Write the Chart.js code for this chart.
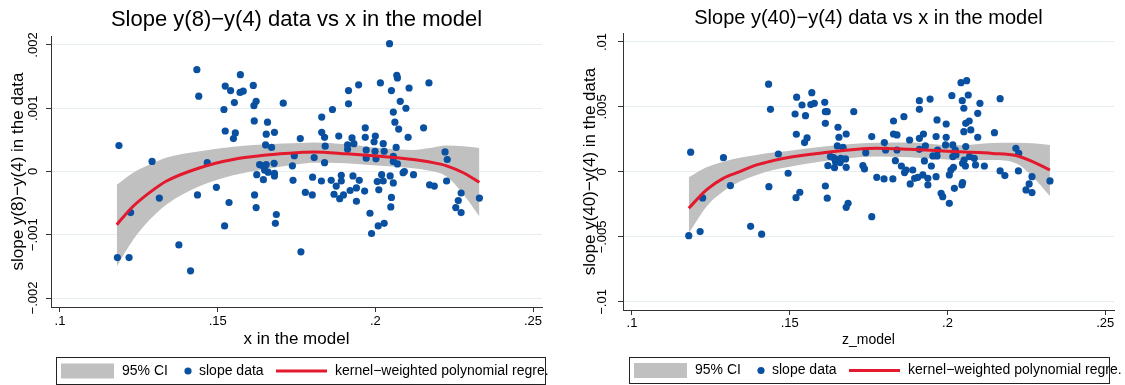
<!DOCTYPE html>
<html><head><meta charset="utf-8">
<script src="https://cdn.jsdelivr.net/npm/chart.js@4/dist/chart.umd.min.js"></script>
<style>
html,body{margin:0;padding:0;background:#fff;width:1125px;height:385px;overflow:hidden}
canvas{position:absolute;top:0}
#cL{left:0}
#cR{left:562px}
</style></head><body>
<canvas id="cL" width="562" height="385"></canvas>
<canvas id="cR" width="563" height="385"></canvas>
<script>
// ---------- data ----------
const titleL = 'Slope y(8)\u2212y(4) data vs x in the model';
const titleR = 'Slope y(40)\u2212y(4) data vs x in the model';
const yTitleL = 'slope y(8)\u2212y(4) in the data';
const yTitleR = 'slope y(40)\u2212y(4) in the data';
const xTitleL = 'x in the model';
const xTitleR = 'z_model';
const legendLabels = ['95% CI', 'slope data', 'kernel\u2212weighted polynomial regre.'];

const xTickValues = [0.1, 0.15, 0.2, 0.25];
const xTickLabels = ['.1', '.15', '.2', '.25'];
const yTickValuesL = [-0.002, -0.001, 0, 0.001, 0.002];
const yTickLabelsL = ['\u2212.002', '\u2212.001', '0', '.001', '.002'];
const yTickValuesR = [-0.01, -0.005, 0, 0.005, 0.01];
const yTickLabelsR = ['\u2212.01', '\u2212.005', '0', '.005', '.01'];

// left panel scatter
const xL = [0.1187,0.1182,0.1219,0.1224,0.1292,0.1315,0.1377,0.1414,0.1434,0.1440,0.1436,0.1467,0.1496,0.1520,0.1524,0.1541,0.1524,0.1536,0.1522,0.1553,
0.1556,0.1550,0.1572,0.1571,0.1581,0.1613,0.1615,0.1622,0.1616,0.1658,0.1654,0.1652,0.1671,0.1680,0.1679,0.1633,0.1624,0.1643,0.1649,0.1654,
0.1660,0.1645,0.1680,0.1680,0.1617,0.1622,0.1686,0.1683,0.1708,0.1737,0.1743,0.1739,0.1762,0.1778,0.1764,0.1800,0.1801,0.1806,0.1830,0.1830,
0.1839,0.1841,0.1839,0.1829,0.1864,0.1860,0.1869,0.1876,0.1884,0.1887,0.1892,0.1892,0.1899,0.1915,0.1915,0.1912,0.1912,0.1926,0.1932,0.1929,
0.1920,0.1940,0.1940,0.1949,0.1947,0.1968,0.1968,0.1971,0.1971,0.1966,0.1983,0.1988,0.2000,0.1996,0.1999,0.2002,0.2009,0.2006,0.2011,0.2016,
0.2025,0.2028,0.2020,0.2025,0.2028,0.2045,0.2051,0.2057,0.2062,0.2068,0.2070,0.2079,0.2074,0.2066,0.2057,0.2057,0.2070,0.2047,0.2057,0.2051,
0.2049,0.2097,0.2107,0.2104,0.2088,0.2092,0.2121,0.2153,0.2170,0.2172,0.2187,0.2221,0.2228,0.2226,0.2255,0.2263,0.2272,0.2272,0.2330];
const yL = [0.00041,-0.00136,-0.00136,-0.00065,0.00016,-0.00042,-0.00116,-0.00157,0.00161,0.00119,-0.00037,0.00014,-0.00025,0.00098,0.00135,0.00128,0.00064,-0.00049,-0.00086,0.00109,
0.00061,0.00052,0.00153,0.00125,0.00127,0.00136,0.00104,0.00111,0.00080,0.00078,0.00059,0.00042,0.00038,0.00062,0.00013,0.00011,-0.00005,0.00009,0.00002,0.00011,
-0.00001,-0.00013,-0.00003,-0.00007,-0.00037,-0.00057,-0.00068,-0.00082,0.00108,0.00009,0.00025,-0.00014,0.00052,-0.00033,-0.00127,-0.00037,-0.00009,0.00022,0.00086,0.00062,
0.00054,0.00040,0.00014,-0.00015,0.00098,-0.00014,-0.00036,-0.00023,0.00056,-0.00043,-0.00006,-0.00015,-0.00037,0.00128,0.00107,0.00042,0.00035,0.00053,0.00044,-0.00007,
-0.00030,-0.00026,-0.00047,-0.00014,0.00137,0.00069,0.00054,0.00034,0.00021,-0.00031,-0.00066,-0.00098,0.00056,0.00047,0.00032,0.00020,-0.00086,-0.00016,-0.00029,0.00140,
0.00044,0.00032,-0.00005,-0.00015,-0.00082,0.00202,0.00128,0.00094,0.00078,0.00152,0.00148,0.00111,0.00067,0.00038,0.00024,0.00016,0.00012,-0.00007,-0.00018,-0.00041,
-0.00056,0.00100,0.00132,0.00054,-0.00002,0.00000,-0.00005,0.00069,0.00140,-0.00021,-0.00023,0.00031,0.00019,-0.00015,-0.00057,-0.00046,-0.00034,-0.00065,-0.00042];

// left panel smooth + CI
const curveXL = [0.118,0.1232,0.1285,0.1338,0.1444,0.1549,0.1655,0.1761,0.1803,0.1909,0.2015,0.2120,0.2173,0.2226,0.2279,0.2330];
const ciHighL = [-0.00021,-0.00002,0.00011,0.00022,0.00032,0.00039,0.00043,0.00045,0.00046,0.00043,0.00037,0.00034,0.00037,0.00041,0.00040,0.00037];
const ciLowL  = [-0.00150,-0.00108,-0.00076,-0.00052,-0.00023,-0.00006,0.00004,0.00012,0.00014,0.00013,0.00009,0.00005,0.00001,-0.00008,-0.00036,-0.00071];
const fitL    = [-0.00084,-0.00055,-0.00033,-0.00015,0.00006,0.00019,0.00026,0.00030,0.00031,0.00028,0.00024,0.00019,0.00015,0.00009,-0.00002,-0.00017];

// right panel scatter
const xR = [0.1186,0.1180,0.1216,0.1224,0.1290,0.1312,0.1376,0.1411,0.1433,0.1439,0.1434,0.1464,0.1495,0.1517,0.1522,0.1539,0.1521,0.1532,0.1520,0.1550,
0.1555,0.1547,0.1570,0.1567,0.1578,0.1611,0.1613,0.1619,0.1613,0.1653,0.1656,0.1651,0.1669,0.1679,0.1677,0.1629,0.1621,0.1639,0.1645,0.1654,
0.1660,0.1642,0.1679,0.1662,0.1613,0.1619,0.1685,0.1679,0.1703,0.1732,0.1741,0.1737,0.1760,0.1776,0.1760,0.1799,0.1827,0.1804,0.1800,0.1829,
0.1829,0.1840,0.1840,0.1835,0.1862,0.1854,0.1864,0.1869,0.1880,0.1882,0.1890,0.1896,0.1906,0.1911,0.1911,0.1911,0.1924,0.1930,0.1911,0.1927,
0.1922,0.1938,0.1938,0.1949,0.1945,0.1954,0.1967,0.1964,0.1969,0.1964,0.1967,0.1996,0.1994,0.2017,0.2025,0.2017,0.2027,0.2006,0.2011,0.2019,
0.1996,0.2014,0.1980,0.1985,0.2006,0.2022,0.2046,0.2048,0.2043,0.2061,0.2047,0.2052,0.2058,0.2052,0.2048,0.2053,0.2058,0.2066,0.2103,0.2096,
0.2069,0.2074,0.2096,0.2149,0.2167,0.2070,0.2085,0.2057,0.2089,0.2117,0.2217,0.2226,0.2167,0.2182,0.2225,0.2268,0.2259,0.2249,0.2268,0.2325];
const yR = [0.00152,-0.00490,-0.00459,-0.00200,0.00110,-0.00105,-0.00418,-0.00479,0.00675,0.00482,-0.00113,0.00138,-0.00010,0.00446,0.00575,0.00515,0.00290,-0.00156,-0.00198,0.00433,
0.00262,0.00226,0.00610,0.00518,0.00528,0.00536,0.00464,0.00464,0.00374,0.00344,0.00267,0.00200,0.00190,0.00292,0.00100,0.00118,0.00048,0.00110,0.00079,0.00095,
0.00072,0.00033,0.00036,0.00105,-0.00108,-0.00202,-0.00241,-0.00272,0.00464,0.00048,0.00148,0.00023,0.00272,-0.00041,-0.00344,-0.00054,-0.00054,0.00169,0.00226,0.00392,
0.00292,0.00285,0.00169,0.00087,0.00425,0.00046,-0.00005,0.00015,0.00246,-0.00092,0.00015,-0.00049,-0.00041,0.00548,0.00482,0.00259,0.00292,0.00200,0.00174,0.00085,
-0.00023,-0.00049,-0.00100,0.00046,0.00561,0.00123,0.00123,0.00272,0.00169,-0.00036,0.00400,0.00267,0.00208,0.00208,0.00169,0.00118,0.00131,-0.00023,0.00015,0.00036,
0.00369,0.00587,-0.00164,-0.00190,-0.00241,-0.00126,-0.00100,-0.00082,0.00687,0.00702,0.00548,0.00490,0.00374,0.00310,0.00067,0.00092,0.00195,0.00592,0.00528,0.00451,
0.00392,0.00323,0.00267,0.00302,0.00564,0.00118,0.00105,0.00046,0.00054,0.00046,0.00182,0.00144,0.00008,-0.00028,0.00008,-0.00036,-0.00092,-0.00138,-0.00159,-0.00069];

// right panel smooth + CI
const curveXR = [0.118,0.1236,0.1289,0.1342,0.1395,0.1447,0.150,0.1595,0.1774,0.188,0.1985,0.2038,0.2143,0.2217,0.227,0.2325];
const ciHighR = [-0.00041,0.00036,0.00079,0.00110,0.00131,0.00149,0.00164,0.00192,0.00225,0.00226,0.00208,0.00205,0.00222,0.00225,0.00220,0.00208];
const ciLowR  = [-0.00472,-0.00267,-0.00151,-0.00074,-0.00023,0.00015,0.00041,0.00079,0.00118,0.00113,0.00097,0.00092,0.00092,0.00067,-0.00036,-0.00185];
const fitR    = [-0.00279,-0.00138,-0.00049,0.00003,0.00054,0.00087,0.00113,0.00144,0.00182,0.00174,0.00162,0.00155,0.00142,0.00126,0.00079,0.00015];

// ---------- styling ----------
const FONT = '"Liberation Sans", Arial, Helvetica, sans-serif';
const DOT = '#0a50a0';
const RED = '#e3192d';
const CI = '#c0c0c0';
const GRID = '#e6eef1';
const AXIS = '#333333';
Chart.defaults.font.family = FONT;
Chart.defaults.color = '#000';

const stataLegend = {
  id: 'stataLegend',
  afterDraw(chart, args, o) {
    const ctx = chart.ctx;
    const L = o.left, T = o.top, W = o.width, H = o.height, cy = T + H / 2 + 0.5;
    ctx.save();
    ctx.strokeStyle = '#222'; ctx.lineWidth = 1;
    ctx.strokeRect(L + 0.5, T + 0.5, W, H);
    ctx.fillStyle = CI;
    ctx.fillRect(L + 5, cy - 7.5, 53, 15);
    ctx.fillStyle = DOT;
    ctx.beginPath(); ctx.arc(L + 132, cy, 3.6, 0, Math.PI * 2); ctx.fill();
    ctx.strokeStyle = RED; ctx.lineWidth = 3;
    ctx.beginPath(); ctx.moveTo(L + 220, cy); ctx.lineTo(L + 271, cy); ctx.stroke();
    ctx.fillStyle = '#000';
    ctx.font = '14px ' + FONT;
    ctx.textBaseline = 'middle'; ctx.textAlign = 'left';
    ctx.fillText(legendLabels[0], L + 66, cy);
    ctx.fillText(legendLabels[1], L + 143, cy);
    ctx.fillText(legendLabels[2], L + 279, cy);
    ctx.restore();
  }
};

function pts(xs, ys) { return xs.map((x, i) => ({ x: x, y: ys[i] })); }
function labelFor(values, labels) {
  return v => { const i = values.findIndex(t => Math.abs(t - v) < 1e-9); return i >= 0 ? labels[i] : ''; };
}

function makeChart(id, p) {
  return new Chart(document.getElementById(id), {
    type: 'line',
    data: { datasets: [
      { label: 'ci low', data: pts(p.cx, p.lo), borderColor: 'rgba(0,0,0,0)', borderWidth: 0, pointRadius: 0, fill: false, cubicInterpolationMode: 'monotone', order: 4 },
      { label: legendLabels[0], data: pts(p.cx, p.hi), borderColor: 'rgba(0,0,0,0)', borderWidth: 0, pointRadius: 0, fill: '-1', backgroundColor: CI, cubicInterpolationMode: 'monotone', order: 3 },
      { type: 'scatter', label: legendLabels[1], data: pts(p.x, p.y), showLine: false, pointRadius: 3.6, pointHoverRadius: 3.6, pointBackgroundColor: DOT, pointBorderWidth: 0, borderColor: DOT, order: 1 },
      { label: legendLabels[2], data: pts(p.cx, p.fit), borderColor: RED, borderWidth: 3, pointRadius: 0, fill: false, cubicInterpolationMode: 'monotone', order: 0 }
    ]},
    options: {
      responsive: false, animation: false, devicePixelRatio: 1, events: [],
      layout: { padding: { left: 0, top: 0, right: p.padR, bottom: p.padB } },
      plugins: {
        legend: { display: false }, tooltip: { enabled: false },
        title: { display: true, text: p.title, fullSize: false, color: '#000', font: { size: p.tfs, weight: 'normal' }, padding: { top: p.tpt, bottom: p.tpb } },
        stataLegend: p.legend
      },
      scales: {
        x: { type: 'linear', min: p.xmin, max: p.xmax,
          afterBuildTicks: s => { s.ticks = xTickValues.map(v => ({ value: v })); },
          afterFit: s => { s.height = p.xh; },
          grid: { drawOnChartArea: false, drawTicks: true, tickLength: 5, tickColor: AXIS, tickWidth: 1 },
          border: { display: true, color: AXIS, width: 1 },
          ticks: { autoSkip: false, minRotation: 0, maxRotation: 0, padding: p.xtp, color: '#000', font: { size: 13 }, callback: labelFor(xTickValues, xTickLabels) },
          title: { display: true, text: p.xtitle, color: '#000', font: { size: p.xtfs }, padding: { top: 0, bottom: p.xtpb } }
        },
        y: { type: 'linear', min: p.ymin, max: p.ymax,
          afterBuildTicks: s => { s.ticks = p.yTicks.map(v => ({ value: v })); },
          afterFit: s => { s.width = p.yw; },
          grid: { color: GRID, lineWidth: 1, drawTicks: true, tickLength: 5, tickColor: AXIS, tickWidth: 1 },
          border: { display: true, color: AXIS, width: 1 },
          ticks: { autoSkip: false, minRotation: 90, maxRotation: 90, crossAlign: 'center', padding: p.ytp, color: '#000', font: { size: 13 }, callback: labelFor(p.yTicks, p.yLabels) },
          title: { display: true, text: p.ytitle, color: '#000', font: { size: 17 }, padding: { top: p.ytpt, bottom: 0 } }
        }
      }
    },
    plugins: [stataLegend]
  });
}

makeChart('cL', {
  x: xL, y: yL, cx: curveXL, lo: ciLowL, hi: ciHighL, fit: fitL,
  title: titleL, tfs: 22, tpt: 6.8, tpb: 2.8,
  xtitle: xTitleL, xtfs: 17, xtpb: 2.8, xh: 45, xtp: 2,
  ytitle: yTitleL, ytpt: 7.8, yw: 51, ytp: -3.4,
  xmin: 0.09715, xmax: 0.25285, ymin: -0.002142, ymax: 0.002142,
  yTicks: yTickValuesL, yLabels: yTickLabelsL,
  padR: 20, padB: 33,
  legend: { left: 56, top: 357, width: 489, height: 27 }
});
makeChart('cR', {
  x: xR, y: yR, cx: curveXR, lo: ciLowR, hi: ciHighR, fit: fitR,
  title: titleR, tfs: 20, tpt: 6.5, tpb: 2.5,
  xtitle: xTitleR, xtfs: 14, xtpb: 6.6, xh: 45, xtp: 0.5,
  ytitle: yTitleR, ytpt: 17.8, yw: 61, ytp: -1.1,
  xmin: 0.09715, xmax: 0.2528, ymin: -0.01062, ymax: 0.01069,
  yTicks: yTickValuesR, yLabels: yTickLabelsR,
  padR: 11, padB: 30,
  legend: { left: 67, top: 357, width: 480, height: 26 }
});
</script></body></html>
